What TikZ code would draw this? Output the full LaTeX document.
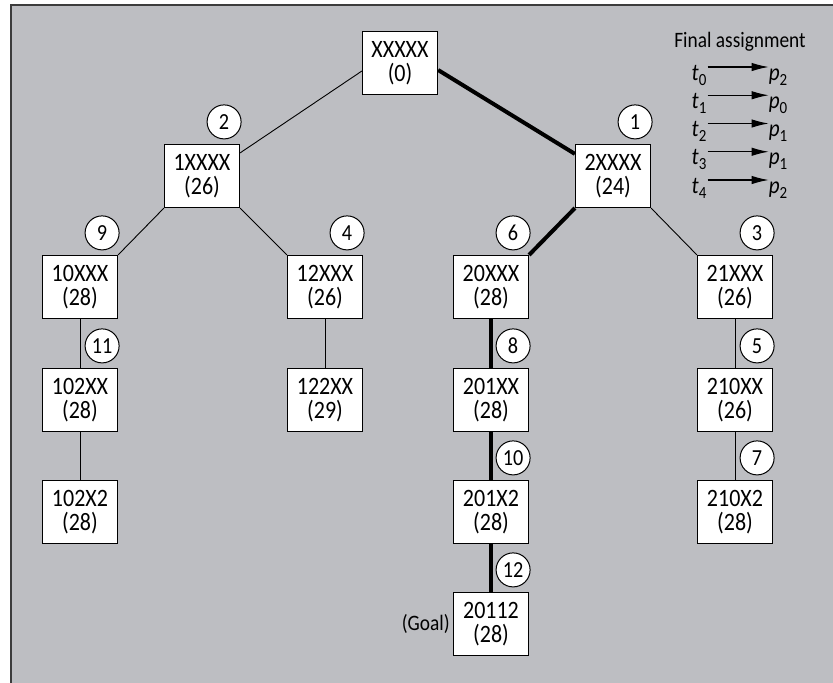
\documentclass[tikz,border=0pt]{standalone}
\usepackage{fontspec}
\setmainfont{Carlito}[FakeStretch=0.88]
\usetikzlibrary{calc,arrows.meta,backgrounds}
\definecolor{bg}{HTML}{BDBEC2}
\definecolor{framecol}{HTML}{3C3C3C}
\newcommand{\tsub}[2]{{\fontsize{24}{24}\selectfont\itshape #1}\raisebox{-5pt}{\fontsize{17}{17}\selectfont #2}}
\begin{document}
\begin{tikzpicture}[x=1pt,y=-1pt,
  box/.style={draw=black, line width=1.2pt, fill=white, minimum width=75pt, minimum height=63pt, inner sep=0pt, align=center, font=\fontsize{25}{23.5}\selectfont},
  num/.style={draw=black, line width=1pt, fill=white, circle, minimum size=34pt, inner sep=0pt, font=\fontsize{23}{23}\selectfont},
  edgethin/.style={draw=black, line width=0.9pt},
  edgethick/.style={draw=black, line width=4pt},
  lbl/.style={font=\fontsize{22}{22}\selectfont, inner sep=1pt},
  arr/.style={draw=black, line width=1.1pt, -{Latex[length=17pt,width=8.5pt]}},
]
\useasboundingbox (0,0) rectangle (833,683);
% tree nodes
\node[box] (r) at (400,63) {XXXXX\\(0)};
\node[box] (a) at (202,176) {1XXXX\\(26)};
\node[box] (b) at (613,176) {2XXXX\\(24)};
\node[box] (a0) at (80,287) {10XXX\\(28)};
\node[box] (a2) at (325,287) {12XXX\\(26)};
\node[box] (b0) at (491,287) {20XXX\\(28)};
\node[box] (b1) at (735,287) {21XXX\\(26)};
\node[box] (a02) at (80,400) {102XX\\(28)};
\node[box] (a22) at (325,400) {122XX\\(29)};
\node[box] (b01) at (491,400) {201XX\\(28)};
\node[box] (b10) at (735,400) {210XX\\(26)};
\node[box] (a02x) at (80,512) {102X2\\(28)};
\node[box] (b01x) at (491,512) {201X2\\(28)};
\node[box] (b10x) at (735,512) {210X2\\(28)};
\node[box] (g) at (491,624) {20112\\(28)};
\node[lbl, anchor=east] (goal) at ([xshift=-2pt]g.west) {(Goal)};
% order numbers
\node[num] (n1) at ($(b.north east)+(-16,-22)$) {1};
\node[num] (n2) at ($(a.north east)+(-16,-22)$) {2};
\node[num] (n3) at ($(b1.north east)+(-16,-22)$) {3};
\node[num] (n4) at ($(a2.north east)+(-16,-22)$) {4};
\node[num] (n5) at ($(b10.north east)+(-16,-22)$) {5};
\node[num] (n6) at ($(b0.north east)+(-16,-22)$) {6};
\node[num] (n7) at ($(b10x.north east)+(-16,-22)$) {7};
\node[num] (n8) at ($(b01.north east)+(-16,-22)$) {8};
\node[num] (n9) at ($(a0.north east)+(-16,-22)$) {9};
\node[num] (n10) at ($(b01x.north east)+(-16,-22)$) {10};
\node[num] (n11) at ($(a02.north east)+(-16,-22)$) {11};
\node[num] (n12) at ($(g.north east)+(-16,-22)$) {12};
% legend
\node[lbl, anchor=base] (fa) at (740,47) {Final assignment};
\foreach \i/\p [count=\k from 0] in {0/2,1/0,2/1,3/1,4/2}{
  \node[lbl, anchor=base] (t\i) at (699,{80+28.25*\k}) {\tsub{t}{\i}};
  \node[lbl, anchor=base] (p\i) at (778,{80+28.25*\k}) {\tsub{p}{\p}};
  \draw[arr] ([yshift=13pt]t\i.base east) -- ([yshift=13pt,xshift=1pt]p\i.base west);
}
\begin{pgfonlayer}{background}
\fill[bg] (11,5) rectangle (833,683);
\draw[framecol, line width=1.5pt] (11,683) -- (11,5) -- (833,5);
\draw[edgethin] ([yshift=-8pt]r.west) -- ([yshift=-9pt]a.north east);
\draw[edgethick] ([yshift=-7pt]r.east) -- ([yshift=-10pt]b.north west);
\draw[edgethin] (a.south west) -- (a0.north east);
\draw[edgethin] (a.south east) -- (a2.north west);
\draw[edgethick] (b.south west) -- (b0.north east);
\draw[edgethin] (b.south east) -- (b1.north west);
\draw[edgethin] (a0) -- (a02);
\draw[edgethin] (a02) -- (a02x);
\draw[edgethin] (a2) -- (a22);
\draw[edgethick] (b0) -- (b01);
\draw[edgethick] (b01) -- (b01x);
\draw[edgethick] (b01x) -- (g);
\draw[edgethin] (b1) -- (b10);
\draw[edgethin] (b10) -- (b10x);
\end{pgfonlayer}
\end{tikzpicture}
\end{document}
